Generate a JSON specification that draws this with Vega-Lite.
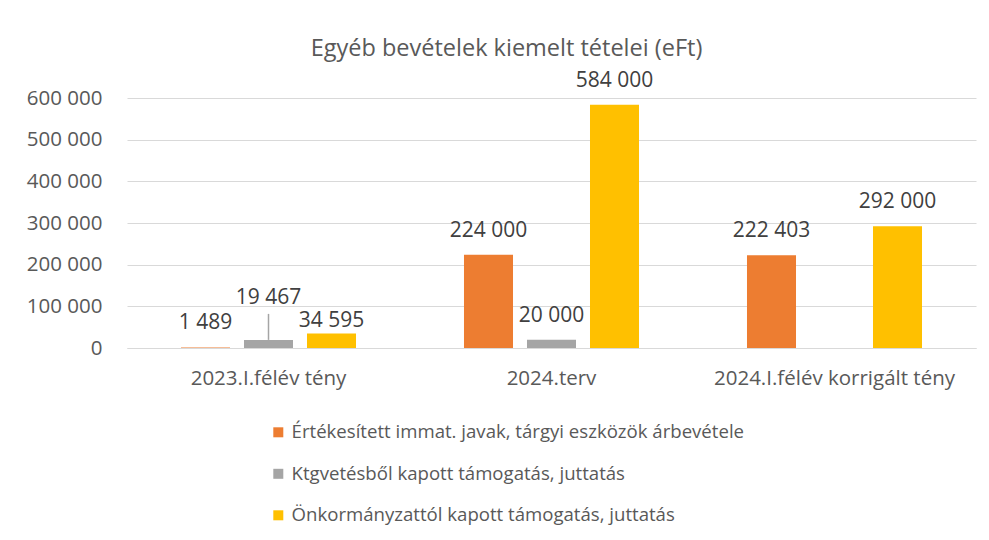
{
  "$schema": "https://vega.github.io/schema/vega-lite/v6.json",
  "width": 849,
  "height": 250,
  "autosize": {"type": "none"},
  "padding": {"left": 127, "top": 98, "right": 13, "bottom": 192},
  "background": "white",
  "title": {
    "text": "Egyéb bevételek kiemelt tételei (eFt)",
    "font": "Open Sans",
    "fontSize": 23.5,
    "fontWeight": "normal",
    "color": "#595959",
    "anchor": "middle",
    "dx": -45,
    "offset": 9
  },
  "data": {
    "values": [
      {"period": "2023.I.félév tény", "series": "Értékesített immat. javak, tárgyi eszközök árbevétele", "value": 1489},
      {"period": "2023.I.félév tény", "series": "Ktgvetésből kapott támogatás, juttatás", "value": 19467},
      {"period": "2023.I.félév tény", "series": "Önkormányzattól kapott támogatás, juttatás", "value": 34595},
      {"period": "2024.terv", "series": "Értékesített immat. javak, tárgyi eszközök árbevétele", "value": 224000},
      {"period": "2024.terv", "series": "Ktgvetésből kapott támogatás, juttatás", "value": 20000},
      {"period": "2024.terv", "series": "Önkormányzattól kapott támogatás, juttatás", "value": 584000},
      {"period": "2024.I.félév korrigált tény", "series": "Értékesített immat. javak, tárgyi eszközök árbevétele", "value": 222403},
      {"period": "2024.I.félév korrigált tény", "series": "Önkormányzattól kapott támogatás, juttatás", "value": 292000}
    ]
  },
  "encoding": {
    "x": {
      "field": "period",
      "type": "nominal",
      "sort": ["2023.I.félév tény", "2024.terv", "2024.I.félév korrigált tény"],
      "scale": {"paddingInner": 0, "paddingOuter": 0},
      "axis": {
        "title": null,
        "labelAngle": 0,
        "labelFont": "Open Sans",
        "labelFontSize": 20.5,
        "labelColor": "#595959",
        "labelPadding": 20,
        "labelLimit": 0,
        "ticks": false,
        "domain": true,
        "domainColor": "#D9D9D9",
        "grid": false
      }
    },
    "xOffset": {
      "field": "series",
      "type": "nominal",
      "scale": {
        "domain": ["Értékesített immat. javak, tárgyi eszközök árbevétele", "Ktgvetésből kapott támogatás, juttatás", "Önkormányzattól kapott támogatás, juttatás"],
        "paddingInner": 0.222,
        "paddingOuter": 0.857
      }
    },
    "y": {
      "field": "value",
      "type": "quantitative",
      "scale": {"domain": [0, 600000], "nice": false},
      "axis": {
        "title": null,
        "values": [0, 100000, 200000, 300000, 400000, 500000, 600000],
        "format": ",d",
        "labelFont": "Open Sans",
        "labelFontSize": 20.5,
        "labelColor": "#595959",
        "labelPadding": 25,
        "ticks": false,
        "domain": false,
        "grid": true,
        "gridColor": "#D9D9D9",
        "gridWidth": 1
      }
    }
  },
  "layer": [
    {
      "mark": {"type": "bar"},
      "encoding": {
        "color": {
          "field": "series",
          "type": "nominal",
          "scale": {
            "domain": ["Értékesített immat. javak, tárgyi eszközök árbevétele", "Ktgvetésből kapott támogatás, juttatás", "Önkormányzattól kapott támogatás, juttatás"],
            "range": ["#ED7D31", "#A5A5A5", "#FFC000"]
          },
          "legend": {
            "title": null,
            "orient": "none",
            "direction": "vertical",
            "legendX": 142,
            "legendY": 325,
            "padding": 0,
            "symbolType": "square",
            "symbolSize": 100,
            "symbolStrokeWidth": 0,
            "labelFont": "Open Sans",
            "labelFontSize": 18.6,
            "labelColor": "#595959",
            "labelOffset": 4,
            "rowPadding": 22.5,
            "labelLimit": 0
          }
        }
      }
    },
    {
      "transform": [{"filter": "datum.value != 19467 && datum.value != 34595"}],
      "mark": {"type": "text", "baseline": "alphabetic", "dy": -18, "font": "Open Sans", "fontSize": 21, "color": "#404040"},
      "encoding": {"text": {"field": "value", "type": "quantitative", "format": ",d"}}
    },
    {
      "transform": [{"filter": "datum.value == 19467"}],
      "mark": {"type": "text", "baseline": "alphabetic", "dy": -36, "font": "Open Sans", "fontSize": 21, "color": "#404040"},
      "encoding": {"text": {"field": "value", "type": "quantitative", "format": ",d"}}
    },
    {
      "transform": [{"filter": "datum.value == 34595"}],
      "mark": {"type": "text", "baseline": "alphabetic", "dy": -7, "font": "Open Sans", "fontSize": 21, "color": "#404040"},
      "encoding": {"text": {"field": "value", "type": "quantitative", "format": ",d"}}
    },
    {
      "transform": [{"filter": "datum.value == 19467"}],
      "mark": {"type": "rule", "color": "#A5A5A5", "strokeWidth": 1.5, "y2Offset": -26},
      "encoding": {"y2": {"field": "value"}}
    }
  ],
  "config": {
    "locale": {"number": {"decimal": ",", "thousands": " ", "grouping": [3], "currency": ["", " Ft"]}},
    "view": {"stroke": null}
  }
}
